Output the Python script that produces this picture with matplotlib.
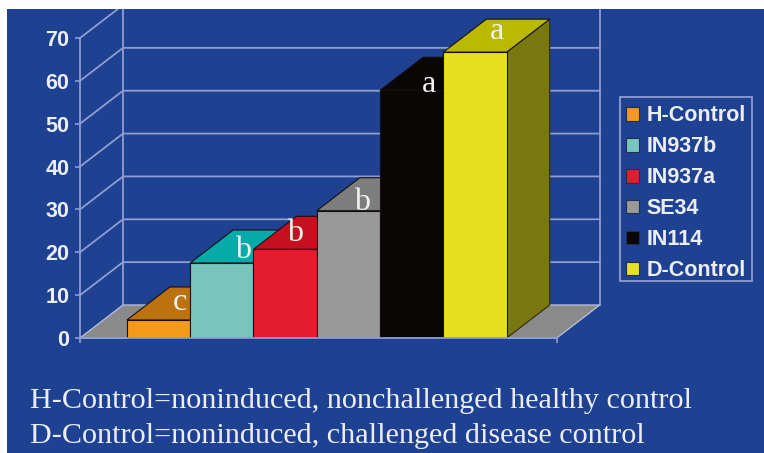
import matplotlib
matplotlib.use("Agg")
import matplotlib.pyplot as plt
from matplotlib.patches import Polygon, Patch, Rectangle

names = ["H-Control", "IN937b", "IN937a", "SE34", "IN114", "D-Control"]
values = [4.2, 17.5, 20.7, 29.7, 57.8, 66.7]
letters = ["c", "b", "b", "b", "a", "a"]
front_colors = ["#f39a1b", "#79c4be", "#e31c2e", "#999999", "#0a0606", "#e6e020"]
top_colors = ["#bb720f", "#04aba8", "#c61020", "#7d7d7d", "#0a0606", "#b9b900"]
yticks = [0, 10, 20, 30, 40, 50, 60, 70]
footnotes = ["H-Control=noninduced, nonchallenged healthy control",
             "D-Control=noninduced, challenged disease control"]

# pixel offsets of the letters from the top centre of each bar
letter_dx = [21, 21, 10, 14, 17, 22]
letter_dy = [18, 13, 16, 8, 6, 21]

W, H = 764.0, 453.0
BG = "#1f4191"
GRID = "#8f9ed2"
TXT = "#eceef7"
EDGE = "#181010"
SANS = "Liberation Sans"
SERIF = "Liberation Serif"

fig = plt.figure(figsize=(W/100, H/100), dpi=100, facecolor="white")

bg = Rectangle((7/W, 0), 1, 1-9/H, transform=fig.transFigure, facecolor=BG, edgecolor="none", zorder=-1)
fig.add_artist(bg)

# axes covers the front plane of the 3d box
ax = fig.add_axes([80/W, 1-338/H, (556.7-80)/W, 300/H])
ax.patch.set_visible(False)
x0, x1 = -1.24, 6.29
ax.set_xlim(x0, x1)
ax.set_ylim(0, 70)

# depth of the box in data units
dx = 43/63.3
dy = 33/(300/70.0)

# back wall
for v in yticks[1:]:
    l1, = ax.plot([x0, x0+dx, x1+dx], [v, v+dy, v+dy], color=GRID, lw=1.3, zorder=1)
    l1.set_clip_path(bg)
for xv in [x0+dx, x1+dx]:
    l2, = ax.plot([xv, xv], [dy, 70+dy], color=GRID, lw=1.3, zorder=1)
    l2.set_clip_path(bg)

# floor
ax.add_patch(Polygon([(x0, 0), (x0+dx, dy), (x1+dx, dy), (x1, 0)], closed=True, facecolor="#8a8a8a",
                     edgecolor="#b4bbd8", lw=1.0, zorder=2, clip_on=False))

# bars drawn back to front, left to right
for i, v in enumerate(values):
    l, r = i-0.5, i+0.5
    ax.add_patch(Polygon([(r, 0), (r+dx, dy), (r+dx, v+dy), (r, v)], closed=True,
                         facecolor="#78780f", edgecolor="#2c2c10", lw=0.8, zorder=3+i, clip_on=False))
    ax.add_patch(Polygon([(l, v), (l+dx, v+dy), (r+dx, v+dy), (r, v)], closed=True,
                         facecolor=top_colors[i], edgecolor=EDGE, lw=0.8, zorder=3+i, clip_on=False))
    ax.bar(i, v, width=1.0, color=front_colors[i], edgecolor=EDGE, lw=0.8, zorder=3+i, clip_on=False)

for i, v in enumerate(values):
    ax.annotate(letters[i], (i, v), xytext=(letter_dx[i]*0.72, letter_dy[i]*0.72), textcoords="offset points",
                ha="center", va="center", fontfamily=SERIF, fontsize=23, color="#f2f2f2", zorder=20,
                annotation_clip=False)

for s in ["top", "right"]:
    ax.spines[s].set_visible(False)
for s in ["left", "bottom"]:
    ax.spines[s].set_color(GRID)
    ax.spines[s].set_linewidth(1.3)
    ax.spines[s].set_zorder(15)

ax.set_yticks(yticks)
ax.set_xticks([x0, x1])
ax.set_xticklabels(["", ""])
ax.tick_params(axis="both", colors=GRID, length=3.5, width=1.2)
ax.tick_params(axis="y", labelcolor=TXT, labelsize=15.5, pad=4)
for t in ax.get_yticklabels():
    t.set_fontfamily(SANS)
    t.set_fontweight("bold")

# legend frame is a separate box so its height does not depend on font descent
fig.add_artist(Rectangle((620/W, 1-281/H), 132/W, 184/H, transform=fig.transFigure,
                         facecolor="none", edgecolor=GRID, lw=1.3))
handles = [Patch(facecolor=c, edgecolor="#20304f", lw=0.8) for c in front_colors]
leg = fig.legend(handles, names, loc="upper left", bbox_to_anchor=(620/W, 1-99/H), borderaxespad=0,
                 frameon=False, prop={"family": SANS, "weight": "bold", "size": 15.5},
                 handlelength=0.6, handleheight=0.6, handletextpad=0.33, labelspacing=0.46, borderpad=0.3,
                 labelcolor=TXT)

fig.text(30/W, 1-401/H, footnotes[0], fontfamily=SERIF, fontsize=21.7, color=TXT, ha="left", va="center")
fig.text(30/W, 1-436/H, footnotes[1], fontfamily=SERIF, fontsize=21.7, color=TXT, ha="left", va="center")

fig.savefig("out.png", dpi=100)
